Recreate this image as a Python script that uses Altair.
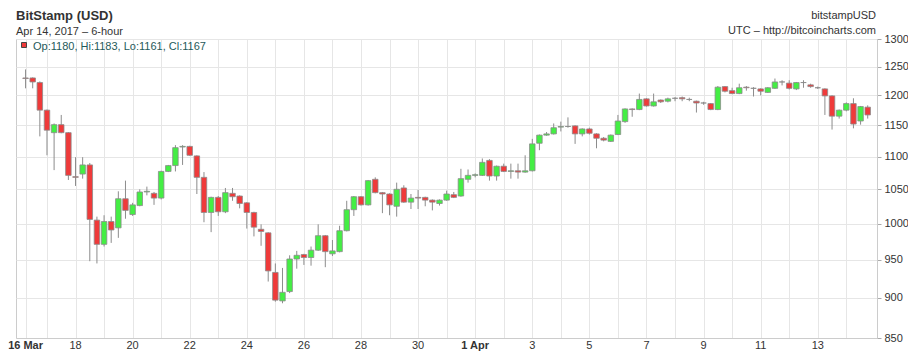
import altair as alt
import pandas as pd

# ---- 6-hour candles, BitStamp USD, 16 Mar 06:00 UTC -> 14 Apr 18:00 UTC ----
first_candle = "2017-03-16 06:00"
opens = [1230, 1230, 1222, 1175, 1138, 1151, 1138, 1069, 1073, 1087,
         1005, 971, 1003, 994, 1036, 1013, 1026, 1046, 1044, 1037,
         1077, 1086, 1115, 1116, 1101, 1068, 1016, 1038, 1017, 1044,
         1040, 1030, 1016, 992, 987, 933, 896, 908, 951, 957,
         953, 963, 983, 958, 961, 990, 1020, 1039, 1027, 1065,
         1045, 1043, 1025, 1052, 1031, 1038, 1038, 1034, 1029, 1034,
         1042, 1040, 1065, 1071, 1071, 1094, 1070, 1085, 1077, 1078,
         1076, 1078, 1121, 1134, 1136, 1147, 1148, 1149, 1136, 1144,
         1136, 1129, 1124, 1135, 1156, 1177, 1176, 1194, 1182, 1192,
         1190, 1195, 1196, 1193, 1190, 1187, 1186, 1176, 1215, 1208,
         1203, 1214, 1212, 1211, 1205, 1212, 1223, 1221, 1211, 1222,
         1218, 1213, 1211, 1199, 1165, 1175, 1186, 1157, 1180]
highs = [1245, 1231, 1224, 1176, 1153, 1167, 1139, 1099, 1099, 1090,
         1010, 1012, 1010, 1047, 1063, 1030, 1050, 1054, 1046, 1078,
         1087, 1118, 1118, 1117, 1102, 1076, 1039, 1040, 1052, 1052,
         1041, 1031, 1017, 999, 988, 945, 939, 956, 962, 958,
         968, 999, 984, 977, 997, 1033, 1040, 1040, 1064, 1068,
         1046, 1044, 1060, 1056, 1043, 1049, 1039, 1035, 1035, 1048,
         1046, 1081, 1080, 1074, 1097, 1096, 1086, 1089, 1089, 1089,
         1102, 1128, 1135, 1139, 1153, 1156, 1163, 1150, 1145, 1146,
         1137, 1131, 1135, 1167, 1178, 1178, 1203, 1195, 1203, 1193,
         1196, 1197, 1198, 1196, 1191, 1189, 1187, 1216, 1216, 1213,
         1220, 1216, 1214, 1212, 1214, 1229, 1226, 1226, 1223, 1226,
         1220, 1215, 1212, 1200, 1176, 1188, 1195, 1182, 1183]
lows = [1212, 1212, 1132, 1102, 1079, 1137, 1064, 1055, 1066, 948,
        945, 968, 973, 980, 1007, 1011, 1025, 1041, 1027, 1035,
        1076, 1077, 1087, 1101, 1043, 1002, 988, 1011, 1015, 1033,
        1022, 993, 982, 969, 921, 895, 893, 906, 938, 943,
        942, 962, 940, 955, 960, 989, 1011, 1026, 1026, 1044,
        1015, 1012, 1010, 1030, 1021, 1021, 1025, 1019, 1026, 1033,
        1037, 1039, 1060, 1068, 1070, 1063, 1063, 1076, 1066, 1066,
        1075, 1077, 1110, 1133, 1135, 1140, 1146, 1120, 1132, 1135,
        1113, 1124, 1123, 1134, 1154, 1164, 1175, 1181, 1181, 1187,
        1188, 1190, 1190, 1190, 1171, 1184, 1175, 1175, 1205, 1202,
        1202, 1208, 1198, 1200, 1204, 1211, 1217, 1210, 1209, 1213,
        1213, 1211, 1167, 1143, 1161, 1173, 1145, 1151, 1161]
closes = [1229, 1223, 1175, 1142, 1151, 1138, 1071, 1068, 1087, 1006,
          971, 1003, 991, 1036, 1019, 1027, 1046, 1047, 1037, 1077,
          1086, 1114, 1116, 1102, 1068, 1016, 1038, 1017, 1045, 1039,
          1029, 1016, 995, 989, 935, 897, 907, 951, 956, 953,
          963, 983, 961, 962, 990, 1020, 1039, 1027, 1063, 1045,
          1043, 1027, 1050, 1031, 1037, 1037, 1034, 1031, 1034, 1043,
          1038, 1066, 1071, 1072, 1091, 1070, 1085, 1077, 1078, 1076,
          1078, 1120, 1134, 1136, 1146, 1148, 1148, 1136, 1144, 1137,
          1129, 1126, 1134, 1157, 1177, 1176, 1193, 1182, 1189, 1189,
          1194, 1195, 1194, 1193, 1187, 1187, 1176, 1214, 1207, 1203,
          1213, 1213, 1212, 1207, 1213, 1223, 1223, 1212, 1222, 1222,
          1215, 1213, 1199, 1165, 1175, 1186, 1152, 1181, 1167]

y_ticks = [850, 900, 950, 1000, 1050, 1100, 1150, 1200, 1250, 1300]
x_label_dates = ["2017-03-16 06:00", "2017-03-18", "2017-03-20", "2017-03-22",
                 "2017-03-24", "2017-03-26", "2017-03-28", "2017-03-30",
                 "2017-04-01", "2017-04-03", "2017-04-05", "2017-04-07",
                 "2017-04-09", "2017-04-11", "2017-04-13"]
x_label_texts = ["16 Mar", "18", "20", "22", "24", "26", "28", "30",
                 "1 Apr", "3", "5", "7", "9", "11", "13"]
grid_days = ["2017-03-16 06:00"] + [d.strftime("%Y-%m-%d") for d in
                                    pd.date_range("2017-03-17", "2017-04-14", freq="D")]
x_domain = ["2017-03-16 02:10", "2017-04-14 21:36"]


def ms(s):
    return int(pd.Timestamp(s, tz="UTC").timestamp() * 1000)


times = pd.date_range(first_candle, periods=len(opens), freq="6h", tz="UTC")
df = pd.DataFrame({
    "t": [int(t.timestamp() * 1000) for t in times],
    "open": opens, "high": highs, "low": lows, "close": closes,
})
labels_df = pd.DataFrame({"t": [ms(d) for d in x_label_dates], "text": x_label_texts})

W, H = 861, 299
RED, GREEN = "#ef3a3a", "#44ee44"
FONT = "Liberation Sans"
GRID = "#e6e6e6"

xscale = alt.Scale(type="utc", domain=[ms(d) for d in x_domain], nice=False)
yscale = alt.Scale(type="log", domain=[850, 1300], nice=False)

x_axis = alt.Axis(values=[ms(d) for d in grid_days], grid=True, gridColor=GRID,
                  labels=False, ticks=False, domainColor="#cccccc", title=None)
y_axis = alt.Axis(orient="right", values=y_ticks, format="d", grid=True, gridColor=GRID,
                  tickColor="#aaaaaa", tickSize=4, labelPadding=3, labelFont=FONT,
                  labelFontSize=11, labelColor="#333333", domainColor="#cccccc",
                  title=None)

X = alt.X("t:T", scale=xscale, axis=x_axis)

wicks = alt.Chart(df).mark_rule(color="#8c8c8c", strokeWidth=1).encode(
    x=X,
    y=alt.Y("low:Q", scale=yscale, axis=y_axis),
    y2="high:Q",
)

bodies = alt.Chart(df).mark_bar(size=5.5, stroke="#8c8c8c", strokeWidth=0.8).encode(
    x=X,
    y=alt.Y("open:Q", scale=yscale, axis=y_axis),
    y2="close:Q",
    color=alt.condition("datum.close < datum.open", alt.value(RED), alt.value(GREEN)),
)

xlab_norm = alt.Chart(labels_df).transform_filter(
    "indexof(datum.text, ' ') < 0").mark_text(
    font=FONT, fontSize=11, color="#333333", baseline="alphabetic", align="center"
).encode(x=X, y=alt.value(H + 11), text="text:N")

xlab_bold = alt.Chart(labels_df).transform_filter(
    "indexof(datum.text, ' ') >= 0").mark_text(
    font=FONT, fontSize=11, fontWeight="bold", color="#333333",
    baseline="alphabetic", align="center"
).encode(x=X, y=alt.value(H + 11), text="text:N")


def header(text, x, y, size=11, weight="normal", align="left", color="#333333"):
    return alt.Chart(pd.DataFrame({"text": [text]})).mark_text(
        font=FONT, fontSize=size, fontWeight=weight, align=align,
        baseline="alphabetic", color=color
    ).encode(x=alt.value(x), y=alt.value(y), text="text:N")


last = df.iloc[-1]
legend_text = f"Op:{last.open}, Hi:{last.high}, Lo:{last.low}, Cl:{last.close}"
legend_color = RED if last.close < last.open else GREEN

legend_box = alt.Chart(pd.DataFrame({"k": [0]})).mark_rect(
    fill=legend_color, stroke="#444444", strokeWidth=1
).encode(x=alt.value(5.5), x2=alt.value(10.5), y=alt.value(3.5), y2=alt.value(8.5))

chart = alt.layer(
    wicks, bodies, xlab_norm, xlab_bold,
    header("BitStamp (USD)", 0, -19.5, size=13, weight="bold"),
    header("Apr 14, 2017 \u2013 6-hour", 0, -4.5),
    header("bitstampUSD", W - 1, -20.5, align="right"),
    header("UTC \u2013 http://bitcoincharts.com", W - 1, -5.5, align="right"),
    legend_box,
    header(legend_text, 17, 11, color="#1f5a5a"),
).properties(
    width=W, height=H,
    autosize=alt.AutoSizeParams(type="none"),
    padding={"left": 8, "top": 31, "right": 31, "bottom": 13},
    background="white",
).configure_view(stroke="#cccccc")

chart.save("out.html", embed_options={"renderer": "svg", "actions": False})
